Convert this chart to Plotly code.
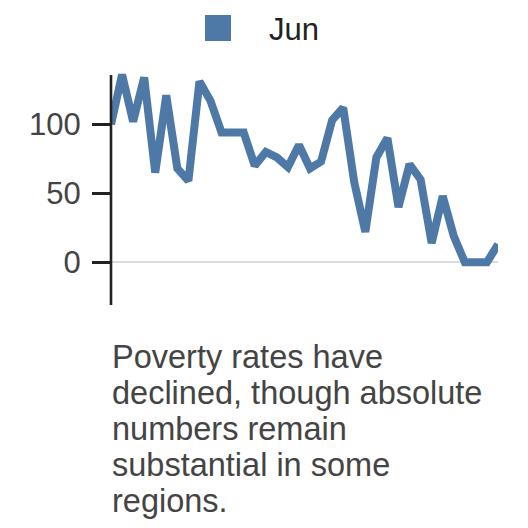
#Imports
import plotly.graph_objects as go

#%% Data
series_name = "Jun"
periods = list(range(36))
values = [100, 136, 102, 134, 65, 121, 68, 59, 131, 117,
          94, 94, 94, 70, 80, 76, 69, 85, 68, 73,
          103, 112, 58, 22, 76, 90, 40, 71, 60, 14,
          48, 19, 0, 0, 0, 13]
tick_vals = [0, 50, 100]
caption = ["Poverty rates have",
           "declined, though absolute",
           "numbers remain",
           "substantial in some",
           "regions."]

#%% Layout parameters (pixels)
# page has an 8px body margin, so the figure is 520 wide and sits at (8, 8)
OFF = 8
W, H = 520, 520
L, R, T, B = 103, 30, 58, 223
y_lo, y_hi = -30.94, 142.25
axis_top = 135.7
blue = "#4e79a7"
font = "Liberation Sans, Arial, sans-serif"

pw = W - L - R
ph = H - T - B

# page pixel -> paper coordinate
def px_x(p):
    return (p - OFF - L) / pw

def px_y(p):
    return (H - B - (p - OFF)) / ph

#%% Plot
trace = go.Scatter(x=periods,
                   y=values,
                   mode='lines',
                   name=series_name,
                   line=dict(color=blue, width=8),
                   showlegend=False,
                   hoverinfo='skip')

fig = go.Figure(trace)

fig.update_layout(width=W, height=H,
                  margin=dict(l=L, r=R, t=T, b=B, pad=0),
                  paper_bgcolor='white', plot_bgcolor='white',
                  font=dict(family=font, size=31, color='#444'),
                  showlegend=False)

fig.update_xaxes(visible=False, range=[periods[0], periods[-1]])
fig.update_yaxes(range=[y_lo, y_hi], tickvals=tick_vals,
                 ticks='outside', ticklen=18, tickwidth=2.7, tickcolor='#222',
                 ticklabelstandoff=5,
                 showline=False, showgrid=False,
                 zeroline=True, zerolinecolor='#dcdcdc', zerolinewidth=2.2,
                 layer='above traces',
                 tickfont=dict(family=font, size=31, color='#444'))

# y axis line (shorter than the plot area)
fig.add_shape(type='line', xref='paper', yref='y',
              x0=0, x1=0, y0=y_lo, y1=axis_top,
              line=dict(color='#222', width=2.6), layer='above')

# legend swatch + label
fig.add_shape(type='rect', xref='paper', yref='paper',
              x0=px_x(205), x1=px_x(231), y0=px_y(41), y1=px_y(15),
              fillcolor=blue, line=dict(width=0))
fig.add_annotation(text=series_name, xref='paper', yref='paper',
                   x=px_x(268), y=px_y(29), xanchor='left', yanchor='middle',
                   showarrow=False, borderpad=0,
                   font=dict(family=font, size=31, color='#222'))

# caption, one line per annotation
for i, line in enumerate(caption):
    fig.add_annotation(text=line, xref='paper', yref='paper',
                       x=px_x(111), y=px_y(357 + 36 * i), xanchor='left', yanchor='middle',
                       showarrow=False, borderpad=0,
                       font=dict(family=font, size=32.5, color='#444'))

fig.write_html("out.html")
